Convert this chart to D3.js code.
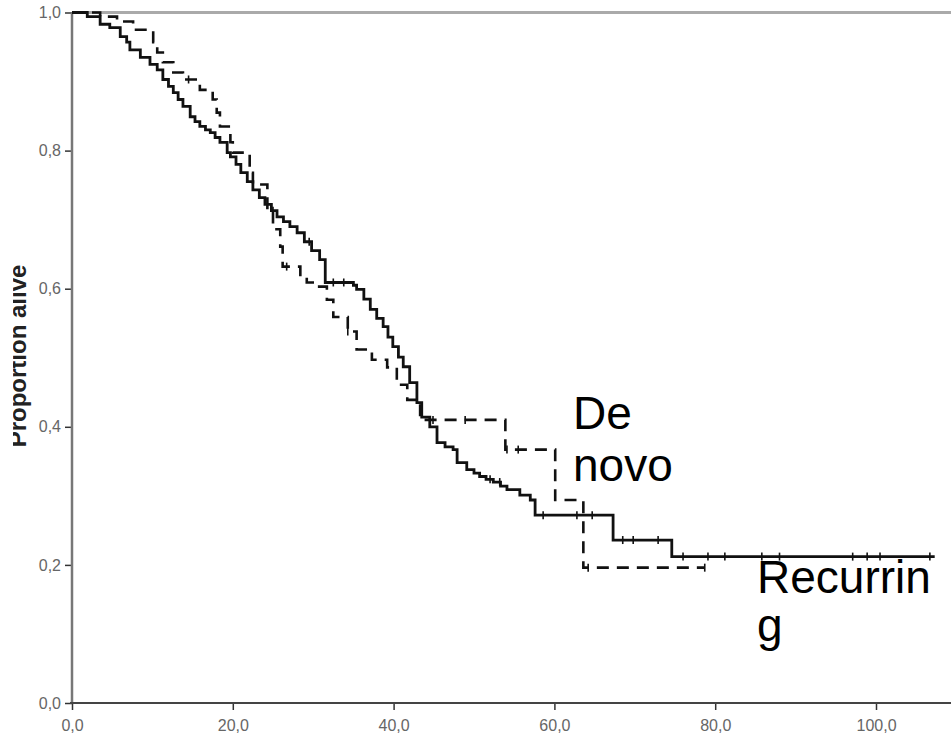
<!DOCTYPE html>
<meta charset="utf-8">
<script src="https://d3js.org/d3.v7.min.js"></script>
<head>
<style>
  body { margin: 0; background: #fff; font-family: Arial, "Liberation Sans", sans-serif; }
  .tick text { fill: #666; font-size: 16px; font-family: Arial, "Liberation Sans", sans-serif; }
</style>
</head>
<body>
<div id="viz"></div>
<script>

// tick values
const xTicks = [0, 20, 40, 60, 80, 100];
const yTicks = [0, 0.2, 0.4, 0.6, 0.8, 1.0];

// Recurring (solid) - step corners (months, proportion alive)
const recTime = [0, 1.9, 3.5, 4.7, 6.0, 6.8, 7.2, 8.5, 9.7, 10.6, 11.3, 12.0, 12.6, 13.2, 13.8, 14.7, 15.3, 15.9, 16.6, 17.2, 17.8, 18.4, 19.3,
  19.7, 20.4, 21.0, 21.8, 22.5, 23.3, 24.0, 24.8, 25.5, 26.3, 27.1, 28.0, 28.9, 29.8, 30.8, 31.5, 35.0, 35.4, 36.3, 37.1, 37.9, 38.7, 39.3, 39.9,
  40.6, 41.2, 42.0, 42.9, 43.5, 44.5, 45.4, 46.4,
  47.4, 47.9, 49.1, 50.0, 50.7, 51.5, 52.4, 53.3, 54.1, 55.7, 57.0, 57.6, 67.3, 74.6, 107.3];
const recSurv = [1.0, 0.994, 0.983, 0.978, 0.965, 0.957, 0.946, 0.935, 0.925, 0.917, 0.903, 0.893, 0.884, 0.874, 0.864, 0.849, 0.842, 0.835, 0.830, 0.826, 0.819, 0.812, 0.797,
  0.791, 0.780, 0.768, 0.755, 0.743, 0.732, 0.722, 0.713, 0.704, 0.697, 0.690, 0.681, 0.668, 0.655, 0.642, 0.609, 0.605, 0.599, 0.585, 0.570, 0.557, 0.545, 0.530, 0.516,
  0.501, 0.487, 0.464, 0.435, 0.414, 0.400, 0.377, 0.371,
  0.367, 0.348, 0.338, 0.333, 0.328, 0.324, 0.320, 0.314, 0.309, 0.301, 0.294, 0.272, 0.236, 0.212, 0.212];
const recCensor = [25.0, 29.5, 32.5, 33.8, 52.0, 53.2, 58.6, 62.8, 64.7, 68.5, 69.8, 72.9,
  76.0, 79.1, 81.2, 85.8, 88.0, 97.1, 98.9, 100.5, 106.7];

// De novo (dashed)
const novoTime = [0, 3.5, 5.6, 7.6, 10.1, 10.6, 11.3, 12.6, 13.8, 15.9, 17.5, 18.0, 18.4, 19.7, 20.0, 22.1, 22.5,
  24.3, 25.0, 25.9, 26.2, 28.4, 29.2, 30.5, 31.7, 32.5, 34.3, 35.4, 37.3, 39.2, 40.4, 41.7, 43.3, 53.9, 60.1, 63.6, 78.7];
const novoSurv = [1.0, 0.994, 0.987, 0.975, 0.957, 0.942, 0.928, 0.913, 0.903, 0.888, 0.874, 0.855, 0.835, 0.812, 0.797, 0.768, 0.751,
  0.714, 0.686, 0.661, 0.632, 0.617, 0.609, 0.603, 0.584, 0.559, 0.538, 0.512, 0.497, 0.486, 0.461, 0.439, 0.410, 0.367, 0.294, 0.196, 0.196];
const novoCensor = [14.5, 26.7, 34.3, 44.9, 48.9, 54.1, 55.5, 64.2, 78.7];

const width = 951, height = 737;
const svg = d3.select("#viz").append("svg")
  .attr("width", width).attr("height", height);

const x = d3.scaleLinear().domain([0, 100]).range([72, 876]);
const y = d3.scaleLinear().domain([0, 1]).range([703, 12.5]);

const loc = d3.formatLocale({decimal: ",", thousands: ".", grouping: [3], currency: ["", ""]});
const fmt = loc.format(".1f");

// frame top line
svg.append("line")
  .attr("x1", x(0)).attr("x2", width)
  .attr("y1", y(1)).attr("y2", y(1))
  .attr("stroke", "#aaa").attr("stroke-width", 3);

// axes
const yAxis = svg.append("g")
  .attr("transform", `translate(${x(0)},0)`)
  .call(d3.axisLeft(y).tickValues(yTicks).tickFormat(fmt).tickSize(7).tickPadding(4));
yAxis.select(".domain").remove();
yAxis.selectAll(".tick line").attr("stroke", "#333").attr("stroke-width", 1.5);

const xAxis = svg.append("g")
  .attr("transform", `translate(0,${y(0)})`)
  .call(d3.axisBottom(x).tickValues(xTicks).tickFormat(fmt).tickSize(7).tickPadding(10));
xAxis.select(".domain").remove();
xAxis.selectAll(".tick line").attr("stroke", "#333").attr("stroke-width", 1.5);

svg.append("line")
  .attr("x1", x(0)).attr("x2", x(0))
  .attr("y1", y(1)).attr("y2", y(0))
  .attr("stroke", "#777").attr("stroke-width", 2.5);
svg.append("line")
  .attr("x1", x(0) - 2).attr("x2", width)
  .attr("y1", y(0)).attr("y2", y(0))
  .attr("stroke", "#444").attr("stroke-width", 2);

// curves
const line = d3.line().x(d => x(d[0])).y(d => y(d[1])).curve(d3.curveStepAfter);
const recData = recTime.map((t, i) => [t, recSurv[i]]);
const novoData = novoTime.map((t, i) => [t, novoSurv[i]]);

svg.append("path").datum(novoData)
  .attr("d", line).attr("fill", "none")
  .attr("stroke", "#111").attr("stroke-width", 2.6)
  .attr("stroke-dasharray", "12,8");

svg.append("path").datum(recData)
  .attr("d", line).attr("fill", "none")
  .attr("stroke", "#111").attr("stroke-width", 2.8);

// censor marks: value of the step curve at that time
const bis = d3.bisector(d => d[0]).right;
function survAt(data, t) { return data[Math.max(0, bis(data, t) - 1)][1]; }

function censor(times, data) {
  svg.append("g").selectAll("line")
    .data(times)
    .join("line")
    .attr("x1", d => x(d)).attr("x2", d => x(d))
    .attr("y1", d => y(survAt(data, d)) - 4)
    .attr("y2", d => y(survAt(data, d)) + 4)
    .attr("stroke", "#111").attr("stroke-width", 1.6);
}
censor(recCensor, recData);
censor(novoCensor, novoData);

// y label (cut at the left edge as in the source)
svg.append("text")
  .attr("transform", `translate(26,356) rotate(-90)`)
  .attr("text-anchor", "middle")
  .attr("font-size", 24).attr("font-weight", "bold")
  .attr("fill", "#222")
  .text("Proportion alive");
svg.append("rect").attr("x", 0).attr("y", 0).attr("width", 13).attr("height", height).attr("fill", "#fff");

// curve labels
const lab = svg.append("g").attr("font-size", 46).attr("fill", "#000");
lab.append("text").attr("x", 573).attr("y", 429).text("De");
lab.append("text").attr("x", 573).attr("y", 481).text("novo");
lab.append("text").attr("x", 757).attr("y", 593).text("Recurrin");
lab.append("text").attr("x", 757).attr("y", 641).text("g");

</script>
</body>
